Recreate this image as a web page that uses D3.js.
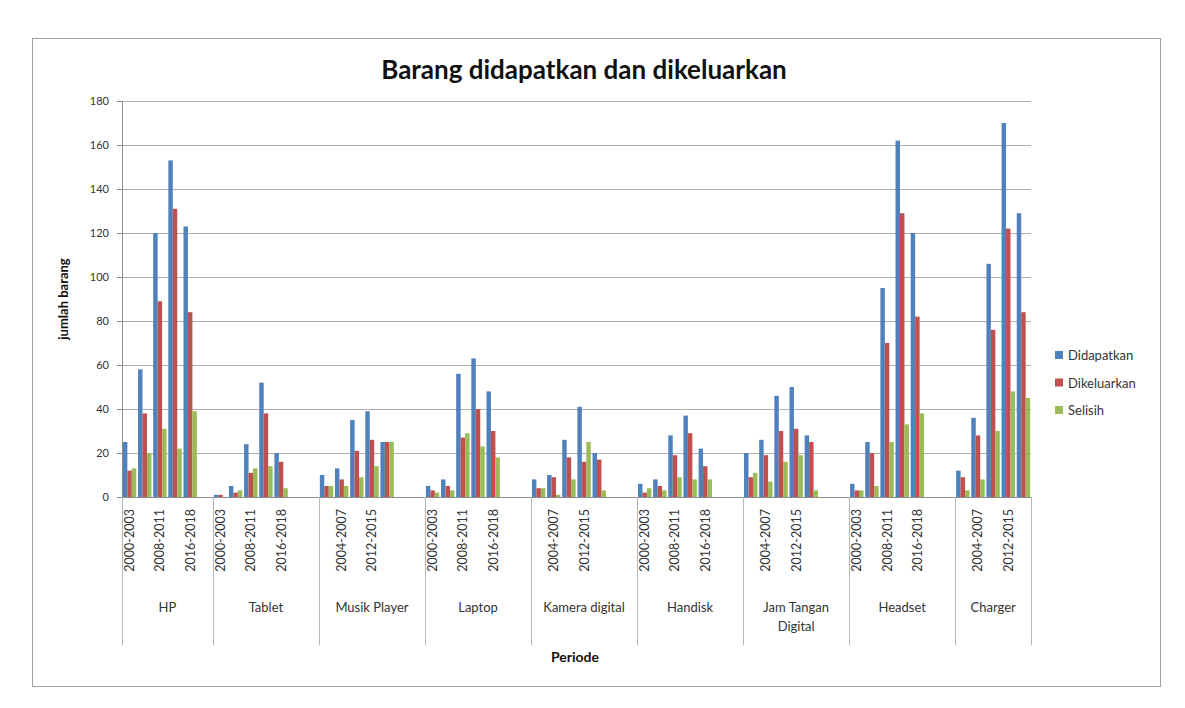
<!DOCTYPE html>
<html>
<head>
<meta charset="utf-8">
<script src="https://cdn.jsdelivr.net/npm/d3@7"></script>
<style>
  html, body { margin: 0; padding: 0; background: #ffffff; }
  svg text { font-family: Lato, "Open Sans", "DejaVu Sans", sans-serif; }
</style>
</head>
<body>
<svg id="chart" width="1185" height="708"></svg>
<script>
// ---------------- DATA ----------------
const groups = ["HP", "Tablet", "Musik Player", "Laptop", "Kamera digital", "Handisk", "Jam Tangan Digital", "Headset", "Charger"];
const periods = ["2000-2003", "2004-2007", "2008-2011", "2012-2015", "2016-2018"];
// empty category rows that follow each group in the source sheet
const blankSlots = [1, 2, 2, 2, 2, 2, 2, 2, 0];
const seriesNames = ["Didapatkan", "Dikeluarkan", "Selisih"];
const didapatkan = [
  [25, 58, 120, 153, 123],
  [1, 5, 24, 52, 20],
  [10, 13, 35, 39, 25],
  [5, 8, 56, 63, 48],
  [8, 10, 26, 41, 20],
  [6, 8, 28, 37, 22],
  [20, 26, 46, 50, 28],
  [6, 25, 95, 162, 120],
  [12, 36, 106, 170, 129]
];
const dikeluarkan = [
  [12, 38, 89, 131, 84],
  [1, 2, 11, 38, 16],
  [5, 8, 21, 26, 25],
  [3, 5, 27, 40, 30],
  [4, 9, 18, 16, 17],
  [2, 5, 19, 29, 14],
  [9, 19, 30, 31, 25],
  [3, 20, 70, 129, 82],
  [9, 28, 76, 122, 84]
];
const selisih = [
  [13, 20, 31, 22, 39],
  [0, 3, 13, 14, 4],
  [5, 5, 9, 14, 25],
  [2, 3, 29, 23, 18],
  [4, 1, 8, 25, 3],
  [4, 3, 9, 8, 8],
  [11, 7, 16, 19, 3],
  [3, 5, 25, 33, 38],
  [3, 8, 30, 48, 45]
];
const yTicks = [0, 20, 40, 60, 80, 100, 120, 140, 160, 180];
const titleText = "Barang didapatkan dan dikeluarkan";
const xTitle = "Periode";
const yTitle = "jumlah barang";

// ---------------- LAYOUT ----------------
const colors = ["#4F81BD", "#C0504D", "#9BBB59"];
const plot = { left: 122, right: 1031, top: 101, bottom: 497 };
const svg = d3.select("#chart");

// chart area border
svg.append("rect")
  .attr("x", 32.5).attr("y", 38.5)
  .attr("width", 1128).attr("height", 648)
  .attr("fill", "#ffffff").attr("stroke", "#a0a0a0").attr("stroke-width", 1);

// categories (incl. blank rows)
const cats = [];
groups.forEach((g, gi) => {
  periods.forEach((p, pi) => cats.push({ key: gi + "|" + p, gi, pi, label: p, blank: false }));
  for (let k = 0; k < blankSlots[gi]; k++) cats.push({ key: gi + "|blank" + k, gi, pi: -1, label: "", blank: true });
});
cats.forEach((c, i) => c.idx = i);

const x = d3.scaleBand().domain(cats.map(c => c.key)).range([plot.left, plot.right]).paddingInner(0).paddingOuter(0);
const xs = d3.scaleBand().domain(seriesNames).range([0, x.bandwidth()]).paddingInner(0).paddingOuter(0.2);
const y = d3.scaleLinear().domain([0, 180]).range([plot.bottom, plot.top]);

// gridlines
const grid = svg.append("g").attr("transform", `translate(${plot.left},0)`)
  .call(d3.axisLeft(y).tickValues(yTicks).tickSize(-(plot.right - plot.left)).tickFormat(""));
grid.select(".domain").remove();
grid.selectAll("line").attr("stroke", "#b0b0b0").attr("stroke-width", 1)
  .attr("shape-rendering", "crispEdges");

// y axis
const yAxis = svg.append("g").attr("transform", `translate(${plot.left},0)`)
  .call(d3.axisLeft(y).tickValues(yTicks).tickSize(5).tickPadding(8));
yAxis.select(".domain").attr("stroke", "#8c8c8c").attr("shape-rendering", "crispEdges");
yAxis.selectAll(".tick line").attr("stroke", "#8c8c8c").attr("shape-rendering", "crispEdges");
yAxis.selectAll(".tick text").attr("fill", "#333").style("font-size", "11px")
  .style("font-family", "Lato, 'Open Sans', sans-serif");

// bars
const seriesData = [didapatkan, dikeluarkan, selisih];
const barData = [];
cats.filter(c => !c.blank).forEach(c => {
  seriesNames.forEach((s, si) => barData.push({ cat: c, s, si, v: seriesData[si][c.gi][c.pi] }));
});
svg.append("g").selectAll("rect").data(barData).join("rect")
  .attr("x", d => x(d.cat.key) + xs(d.s))
  .attr("width", xs.bandwidth())
  .attr("y", d => y(d.v))
  .attr("height", d => y(0) - y(d.v))
  .attr("fill", d => colors[d.si]);

// x axis line
svg.append("line").attr("x1", plot.left).attr("x2", plot.right)
  .attr("y1", plot.bottom + 0.5).attr("y2", plot.bottom + 0.5)
  .attr("stroke", "#8c8c8c");

// group dividers of the multi-level axis
const groupBounds = [];
groups.forEach((g, gi) => {
  const gc = cats.filter(c => c.gi === gi);
  groupBounds.push({ gi, name: g, x0: x(gc[0].key), x1: x(gc[gc.length - 1].key) + x.bandwidth() });
});
const divX = [groupBounds[0].x0].concat(groupBounds.map(b => b.x1));
svg.append("g").selectAll("line").data(divX).join("line")
  .attr("x1", d => Math.round(d) + 0.5).attr("x2", d => Math.round(d) + 0.5)
  .attr("y1", plot.bottom).attr("y2", 645)
  .attr("stroke", "#b8b8b8");

// period labels (every 2nd category)
svg.append("g").selectAll("text").data(cats.filter(c => c.idx % 2 === 0 && !c.blank)).join("text")
  .attr("transform", d => `translate(${x(d.key) + x.bandwidth() / 2},${plot.bottom + 12}) rotate(-90)`)
  .attr("text-anchor", "end")
  .attr("dominant-baseline", "central")
  .attr("fill", "#333")
  .style("font-size", "12.5px")
  .text(d => d.label);

// group labels with wrapping
const gl = svg.append("g");
groupBounds.forEach(b => {
  const cx = (b.x0 + b.x1) / 2;
  const maxW = (b.x1 - b.x0) - 12;
  const t = gl.append("text").attr("x", cx).attr("y", 612).attr("text-anchor", "middle")
    .attr("fill", "#333").style("font-size", "13px").text(b.name);
  if (t.node().getComputedTextLength() > maxW) {
    const words = b.name.split(" ");
    const lines = [];
    let cur = [];
    t.text("");
    words.forEach(w => {
      const test = cur.concat([w]).join(" ");
      t.text(test);
      if (t.node().getComputedTextLength() > maxW && cur.length) { lines.push(cur.join(" ")); cur = [w]; }
      else cur.push(w);
    });
    lines.push(cur.join(" "));
    t.text("");
    lines.forEach((ln, i) => t.append("tspan").attr("x", cx).attr("dy", i === 0 ? 0 : 19).text(ln));
  }
});

// title
svg.append("text").attr("x", 584).attr("y", 79).attr("text-anchor", "middle")
  .attr("fill", "#111").style("font-size", "26px").style("font-weight", "bold").text(titleText);

// axis titles
svg.append("text").attr("x", 575).attr("y", 662).attr("text-anchor", "middle")
  .attr("fill", "#111").style("font-size", "14px").style("font-weight", "bold").text(xTitle);
svg.append("text").attr("transform", `translate(63,${(plot.top + plot.bottom) / 2}) rotate(-90)`)
  .attr("text-anchor", "middle").attr("dominant-baseline", "central")
  .attr("fill", "#111").style("font-size", "13px").style("font-weight", "bold").text(yTitle);

// legend
const lg = svg.append("g").attr("transform", "translate(1055,355)");
seriesNames.forEach((s, i) => {
  const row = lg.append("g").attr("transform", `translate(0,${i * 27.5})`);
  row.append("rect").attr("x", 0).attr("y", -4).attr("width", 8).attr("height", 8).attr("fill", colors[i]);
  row.append("text").attr("x", 13).attr("y", 0).attr("dominant-baseline", "central")
    .attr("fill", "#333").style("font-size", "13px").text(s);
});
</script>
</body>
</html>
